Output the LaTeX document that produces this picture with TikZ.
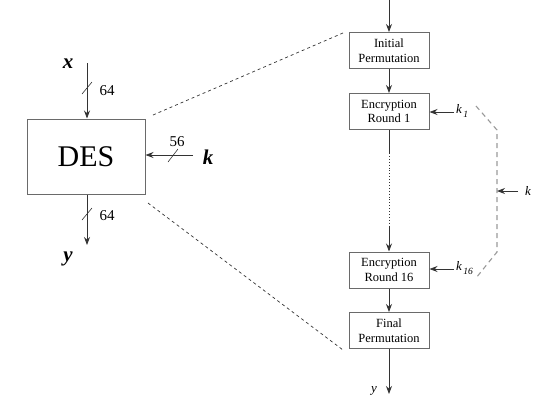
\documentclass[tikz,border=0pt]{standalone}
\usepackage{fontspec}
\setmainfont{Liberation Serif}
\usetikzlibrary{arrows.meta}
\definecolor{linecol}{HTML}{333333}
\definecolor{boxcol}{HTML}{6A6A6A}
\definecolor{keycol}{HTML}{999999}
\newcommand{\keysub}[1]{k\kern1.5pt\raisebox{-4pt}{\fontsize{9.5}{9.5}\selectfont\itshape #1}}
\tikzset{
  desbox/.style={draw=boxcol, line width=1pt, minimum width=118pt, minimum height=75pt, inner sep=0pt, font=\fontsize{30}{32}\selectfont},
  stagebox/.style={draw=boxcol, line width=1pt, minimum width=80pt, minimum height=36pt, inner sep=0pt, align=center, font=\fontsize{12.5}{14.5}\selectfont},
  flow/.style={draw=linecol, line width=0.9pt, -{Stealth[length=8pt,width=6pt]}},
  plain/.style={draw=linecol, line width=0.9pt},
  zoomline/.style={draw=linecol, line width=0.7pt, dash pattern=on 3pt off 3pt},
  keyline/.style={draw=keycol, line width=1.1pt, dash pattern=on 5pt off 4pt},
  slashmark/.style={draw=linecol, line width=0.6pt},
  bigvar/.style={font=\fontsize{21}{21}\selectfont\bfseries\itshape, inner sep=0pt},
  bitnum/.style={font=\fontsize{15}{15}\selectfont, inner sep=0pt},
  smallvar/.style={font=\fontsize{13}{13}\selectfont\itshape, inner sep=0pt},
}
\begin{document}
\begin{tikzpicture}[x=1pt,y=-1pt]
\useasboundingbox (0,0) rectangle (536,400);
% left DES block
\node[desbox] (des) at (86,156.5) {DES};
\node[bigvar] (xl) at (68,64) {x};
\node[bigvar] (yl) at (68,259) {y};
\node[bigvar] (kl) at (208,157) {k};
\coordinate (xs) at (87,63);
\coordinate (ye) at (87,245);
\coordinate (ks) at (193,155);
\draw[flow] (xs) -- (des.north -| xs);
\draw[flow] (des.south -| ye) -- (ye);
\draw[flow] (ks) -- (des.east |- ks);
\coordinate (s1a) at (82,94); \coordinate (s1b) at (92,82);
\coordinate (s2a) at (82,220); \coordinate (s2b) at (92,208);
\coordinate (s3a) at (168,162); \coordinate (s3b) at (178,149);
\draw[slashmark] (s1a) -- (s1b);
\draw[slashmark] (s2a) -- (s2b);
\draw[slashmark] (s3a) -- (s3b);
\node[bitnum] (n1) at (107,91) {64};
\node[bitnum] (n2) at (107,216) {64};
\node[bitnum] (n3) at (177,142) {56};
% right column
\node[stagebox] (ip) at (389,50.5) {Initial\\Permutation};
\node[stagebox] (r1) at (389,111.5) {Encryption\\Round 1};
\node[stagebox] (r16) at (389,270) {Encryption\\Round 16};
\node[stagebox] (fp) at (389,330.5) {Final\\Permutation};
\coordinate (top) at (389,0);
\coordinate (bot) at (389,394);
\coordinate (d1) at (389,153);
\coordinate (d2) at (389,227);
\draw[flow] (top) -- (ip.north);
\draw[flow] (ip.south) -- (r1.north);
\draw[plain] (r1.south) -- (d1);
\draw[draw=linecol, line width=0.9pt, dotted] (d1) -- (d2);
\draw[flow] (d2) -- (r16.north);
\draw[flow] (r16.south) -- (fp.north);
\draw[flow] (fp.south) -- (bot);
\node[smallvar] (yr) at (374,391) {y};
% round keys
\node[smallvar, anchor=west] (k1) at (456,111) {\keysub{1}};
\node[smallvar, anchor=west] (k16) at (456,268) {\keysub{16}};
\coordinate (k1t) at (454,112);
\coordinate (k16t) at (454,269);
\draw[flow] (k1t) -- (r1.east |- k1t);
\draw[flow] (k16t) -- (r16.east |- k16t);
\coordinate (ka) at (476,106);
\coordinate (kb) at (497,130);
\coordinate (kc) at (497,252);
\coordinate (kd) at (476,278);
\draw[keyline] (ka) -- (kb) -- (kc) -- (kd);
\node[smallvar] (kr) at (528,191) {k};
\coordinate (ke) at (518,191);
\draw[flow] (ke) -- (kc |- ke);
% zoom lines
\coordinate (z1a) at (153,115); \coordinate (z1b) at (343,33);
\coordinate (z2a) at (148,203); \coordinate (z2b) at (343,350);
\draw[zoomline] (z1a) -- (z1b);
\draw[zoomline] (z2a) -- (z2b);
\end{tikzpicture}
\end{document}
